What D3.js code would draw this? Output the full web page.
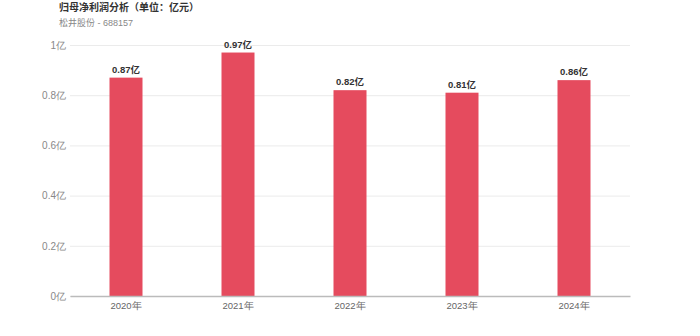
<!DOCTYPE html>
<html>
<head>
<meta charset="utf-8">
<script src="https://cdn.jsdelivr.net/npm/d3@7"></script>
<style>
  body { margin: 0; background: #fff; font-family: "Liberation Sans", "Noto Sans CJK SC", sans-serif; }
  .grid line { stroke: #ebebeb; }
  .grid path { display: none; }
</style>
</head>
<body>
<div id="chart"></div>
<script>
// datos
years  = ['2020年', '2021年', '2022年', '2023年', '2024年']
profit = [0.87, 0.97, 0.82, 0.81, 0.86]
yTicks = [0, 0.2, 0.4, 0.6, 0.8, 1]

anchototal = 700
altototal  = 336
margin = { top: 45, left: 70, right: 70, bottom: 40 }
ancho = anchototal - margin.left - margin.right
alto  = altototal - margin.top - margin.bottom

svg = d3.select('#chart')
  .append('svg')
  .attr('width', anchototal)
  .attr('height', altototal)

// titulo
svg.append('text')
  .attr('x', 59).attr('y', 11)
  .attr('font-size', 10).attr('font-weight', 'bold').attr('fill', '#333')
  .text('归母净利润分析（单位：亿元）')
svg.append('text')
  .attr('x', 59).attr('y', 25.5)
  .attr('font-size', 9).attr('fill', '#888')
  .text('松井股份 - 688157')

g = svg.append('g')
  .attr('transform', `translate(${margin.left}, ${margin.top})`)

x = d3.scaleBand().domain(years).range([0, ancho])
y = d3.scaleLinear().domain([0, 1]).range([alto, 0])

yAxis = g.append('g')
  .attr('class', 'grid')
  .call(d3.axisLeft(y).tickValues(yTicks).tickSize(-ancho).tickFormat(d => d + '亿'))
yAxis.selectAll('text')
  .attr('x', -4)
  .attr('fill', '#888')
  .attr('font-size', 10)
yAxis.select('.tick line').attr('stroke', 'none')

bw = 33
g.selectAll('rect')
  .data(profit)
  .enter()
  .append('rect')
  .attr('x', (d, i) => x(years[i]) + x.bandwidth() / 2 - bw / 2)
  .attr('y', d => y(d))
  .attr('width', bw)
  .attr('height', d => alto - y(d))
  .attr('fill', '#e54b5e')

g.selectAll('.lbl')
  .data(profit)
  .enter()
  .append('text')
  .attr('class', 'lbl')
  .attr('x', (d, i) => x(years[i]) + x.bandwidth() / 2)
  .attr('y', d => y(d) - 5)
  .attr('text-anchor', 'middle')
  .attr('font-size', 9.5)
  .attr('font-weight', 'bold')
  .attr('fill', '#333')
  .text(d => d + '亿')

xAxis = g.append('g')
  .attr('transform', `translate(0, ${alto})`)
  .call(d3.axisBottom(x).tickSize(0).tickPadding(6))
xAxis.select('.domain').attr('stroke', '#bbb').attr('stroke-width', 1.5)
xAxis.selectAll('text').attr('fill', '#666').attr('font-size', 9.5)
</script>
</body>
</html>
